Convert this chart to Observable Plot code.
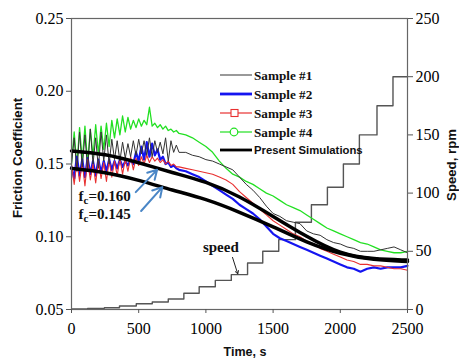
<!DOCTYPE html>
<html><head><meta charset="utf-8">
<script src="https://cdn.jsdelivr.net/npm/d3@7"></script>
<script src="https://cdn.jsdelivr.net/npm/@observablehq/plot@0.6"></script>
<style>body{margin:0;background:#fff;} #chart{width:459px;height:358px;position:relative;}</style>
</head><body><div id="chart"></div>
<script>
// ---- data ----
const time = [0,20,40,60,80,100,120,140,160,180,200,220,240,260,280,300,320,340,360,380,400,420,440,460,480,500,520,540,560,580,600,620,640,660,680,700,720,740,760,780,800,
  850,900,950,1000,1050,1100,1150,1200,1250,1300,1350,1400,1450,1500,1550,1600,1650,1700,1750,1800,1850,1900,1950,2000,2050,2100,2150,2200,2250,2300,2350,2400,2450,2500];
const sample1 = [0.150,0.168,0.145,0.172,0.148,0.170,0.146,0.174,0.150,0.168,0.147,0.172,0.152,0.170,0.150,0.167,0.153,0.166,0.152,0.165,0.154,0.164,0.155,0.166,0.156,0.167,0.157,0.166,0.156,0.168,0.155,0.166,0.158,0.165,0.157,0.168,0.152,0.166,0.158,0.163,0.158,
  0.158,0.156,0.155,0.153,0.152,0.150,0.148,0.146,0.141,0.136,0.132,0.127,0.121,0.116,0.114,0.111,0.110,0.109,0.104,0.102,0.101,0.098,0.096,0.095,0.093,0.092,0.090,0.090,0.090,0.091,0.092,0.093,0.091,0.089];
const sample2 = [0.148,0.140,0.155,0.142,0.153,0.141,0.154,0.143,0.152,0.142,0.153,0.144,0.152,0.145,0.153,0.146,0.152,0.147,0.153,0.148,0.152,0.149,0.153,0.150,0.158,0.152,0.162,0.153,0.165,0.155,0.164,0.156,0.160,0.153,0.155,0.150,0.151,0.148,0.149,0.147,0.146,
  0.145,0.143,0.141,0.138,0.135,0.132,0.129,0.126,0.122,0.119,0.116,0.112,0.107,0.102,0.099,0.097,0.095,0.093,0.091,0.089,0.087,0.085,0.083,0.081,0.079,0.078,0.076,0.078,0.079,0.078,0.079,0.079,0.079,0.080];
const sample3 = [0.150,0.136,0.152,0.138,0.151,0.135,0.153,0.139,0.150,0.137,0.152,0.140,0.151,0.138,0.153,0.141,0.152,0.142,0.154,0.143,0.153,0.145,0.155,0.146,0.154,0.149,0.155,0.150,0.156,0.151,0.155,0.152,0.154,0.151,0.153,0.150,0.152,0.149,0.150,0.148,0.148,
  0.147,0.146,0.145,0.144,0.143,0.141,0.139,0.136,0.131,0.127,0.123,0.119,0.115,0.111,0.108,0.105,0.102,0.100,0.097,0.095,0.092,0.090,0.088,0.086,0.084,0.083,0.081,0.081,0.080,0.080,0.079,0.078,0.078,0.077];
const sample4 = [0.150,0.172,0.148,0.175,0.152,0.176,0.150,0.174,0.155,0.177,0.157,0.176,0.160,0.178,0.162,0.180,0.168,0.181,0.170,0.183,0.172,0.182,0.174,0.180,0.175,0.181,0.176,0.180,0.177,0.189,0.176,0.178,0.175,0.177,0.174,0.176,0.173,0.174,0.172,0.173,0.171,
  0.170,0.168,0.165,0.162,0.158,0.152,0.147,0.143,0.141,0.138,0.136,0.133,0.130,0.128,0.125,0.122,0.120,0.118,0.115,0.112,0.109,0.106,0.104,0.102,0.100,0.098,0.096,0.095,0.093,0.091,0.090,0.089,0.089,0.090];
const simTime = [0,250,500,750,1000,1250,1500,1750,2000,2250,2500];
const sim160 = [0.159,0.157,0.151,0.144,0.138,0.128,0.114,0.100,0.088,0.0845,0.084];
const sim145 = [0.147,0.1445,0.139,0.132,0.126,0.117,0.107,0.096,0.088,0.084,0.083];
const speedTime = [0,120,245,357,482,601,720,836,950,1070,1189,1310,1423,1542,1666,1785,1904,2023,2142,2273,2392,2500];
const speedRpm = [0.5,1,1.5,3,5,6.5,9,14,19.5,25,30,40,50,60,75,90,105,125,150,175,200,200];
const xTicks = [0,500,1000,1500,2000,2500];
const yTicks = [0.05,0.10,0.15,0.20,0.25];
const speedTicks = [0,50,100,150,200,250];
const seriesNames = ["Sample #1","Sample #2","Sample #3","Sample #4","Present Simulations"];
const seriesColors = ["#333333","#1414f0","#e83030","#22e022","#000000"];
// annotations
const fcLabels = [{t:250, f:0.1277, sub:"c", txt:"=0.160"},{t:250, f:0.1153, sub:"c", txt:"=0.145"}];
const fcArrows = [{t1:478,f1:0.1307,t2:637,f2:0.1460},{t1:518,f1:0.1177,t2:676,f2:0.1341}];
const speedLabel = {t:1111, f:0.0926, txt:"speed"};
const speedArrow = {t1:1198, f1:0.0858, t2:1237, f2:0.0745};

// ---- derived tables ----
const toF = rpm => 0.05 + rpm * 0.2 / 250;
const mk = arr => time.map((t, i) => ({t, f: arr[i]}));
const speedData = speedTime.map((t, i) => ({t, f: toF(speedRpm[i])}));
const simA = simTime.map((t, i) => ({t, f: sim160[i]}));
const simB = simTime.map((t, i) => ({t, f: sim145[i]}));

const serif = "Liberation Serif, Times New Roman, serif";
const sans = "Liberation Sans, Arial, sans-serif";

const plot = Plot.plot({
  width: 459, height: 358,
  marginLeft: 71, marginRight: 52, marginTop: 18, marginBottom: 49,
  style: {fontFamily: serif, fontSize: "16px", background: "#fff", color: "#000"},
  x: {domain: [0, 2500]},
  y: {domain: [0.05, 0.25]},
  marks: [
    Plot.line(speedData, {x: "t", y: "f", curve: "step-after", stroke: "#555", strokeWidth: 1.4}),
    Plot.line(mk(sample4), {x: "t", y: "f", stroke: seriesColors[3], strokeWidth: 1.3}),
    Plot.line(mk(sample2), {x: "t", y: "f", stroke: seriesColors[1], strokeWidth: 2.2}),
    Plot.line(mk(sample3), {x: "t", y: "f", stroke: seriesColors[2], strokeWidth: 1.1}),
    Plot.line(mk(sample1), {x: "t", y: "f", stroke: seriesColors[0], strokeWidth: 1}),
    Plot.line(simA, {x: "t", y: "f", stroke: "#000", strokeWidth: 3.5, curve: "basis"}),
    Plot.line(simB, {x: "t", y: "f", stroke: "#000", strokeWidth: 3.5, curve: "basis"}),
    Plot.arrow(fcArrows, {x1: "t1", y1: "f1", x2: "t2", y2: "f2", stroke: "#4a86c6", strokeWidth: 2, headLength: 9}),
    Plot.arrow([speedArrow], {x1: "t1", y1: "f1", x2: "t2", y2: "f2", stroke: "#222", strokeWidth: 1, headLength: 5}),
    Plot.text([speedLabel], {x: "t", y: "f", text: "txt", fontFamily: serif, fontWeight: "bold", fontSize: 15, fill: "#111"}),
    Plot.frame({stroke: "#666", strokeWidth: 1.2}),
    Plot.axisX(xTicks, {tickSize: 4, tickPadding: 9, label: null, stroke: "#555", fontSize: 16, fontFamily: serif, tickFormat: d => String(d)}),
    Plot.axisY(yTicks, {anchor: "left", tickSize: 5, tickPadding: 3, label: null, stroke: "#555", fontSize: 16, fontFamily: serif, tickFormat: d => d.toFixed(2)}),
    Plot.axisY(speedTicks.map(toF), {anchor: "right", tickSize: 5, tickPadding: 3, label: null, stroke: "#555", fontSize: 16, fontFamily: serif, tickFormat: d => String(Math.round((d - 0.05) * 1250))})
  ]
});
document.getElementById("chart").appendChild(plot);

const svg = d3.select(plot);
const sx = plot.scale("x"), sy = plot.scale("y");

// fc labels with subscript
fcLabels.forEach(l => {
  const t = svg.append("text")
    .attr("x", sx.apply(l.t)).attr("y", sy.apply(l.f))
    .attr("text-anchor", "middle").attr("dominant-baseline", "central")
    .attr("font-family", serif).attr("font-weight", "bold").attr("font-size", 15).attr("fill", "#111");
  t.append("tspan").text("f");
  t.append("tspan").attr("font-size", 11).attr("dy", 4).text(l.sub);
  t.append("tspan").attr("dy", -4).text(l.txt);
});

// axis titles
svg.append("text").attr("transform", "translate(17,158) rotate(-90)")
  .attr("text-anchor", "middle").attr("dominant-baseline", "central")
  .attr("font-family", sans).attr("font-weight", "bold").attr("font-size", 13.2).attr("fill", "#111")
  .text("Friction Coefficient");
svg.append("text").attr("transform", "translate(451,165) rotate(-90)")
  .attr("text-anchor", "middle").attr("dominant-baseline", "central")
  .attr("font-family", sans).attr("font-weight", "bold").attr("font-size", 13.2).attr("fill", "#111")
  .text("Speed, rpm");
svg.append("text").attr("x", 245).attr("y", 352)
  .attr("text-anchor", "middle").attr("dominant-baseline", "central")
  .attr("font-family", sans).attr("font-weight", "bold").attr("font-size", 12.5).attr("fill", "#111")
  .text("Time, s");

// legend
const lg = svg.append("g");
const rows = [75, 94, 113, 132, 150];
seriesNames.forEach((name, i) => {
  const y = rows[i];
  const w = i === 1 || i === 4 ? 2.8 : 1.2;
  lg.append("line").attr("x1", 220).attr("x2", 252).attr("y1", y).attr("y2", y)
    .attr("stroke", i === 0 ? "#555" : seriesColors[i]).attr("stroke-width", w);
  if (i === 2) lg.append("rect").attr("x", 231).attr("y", y - 3.5).attr("width", 7).attr("height", 7)
    .attr("fill", "#fff").attr("stroke", seriesColors[2]).attr("stroke-width", 1.1);
  if (i === 3) lg.append("circle").attr("cx", 234).attr("cy", y).attr("r", 3.8)
    .attr("fill", "#fff").attr("stroke", seriesColors[3]).attr("stroke-width", 1.2);
  lg.append("text").attr("x", 254).attr("y", y).attr("text-anchor", "start").attr("dominant-baseline", "central")
    .attr("font-family", i === 4 ? sans : serif).attr("font-weight", "bold")
    .attr("font-size", i === 4 ? 11.3 : 13.2).attr("fill", "#111").text(name);
});
</script>
</body></html>
